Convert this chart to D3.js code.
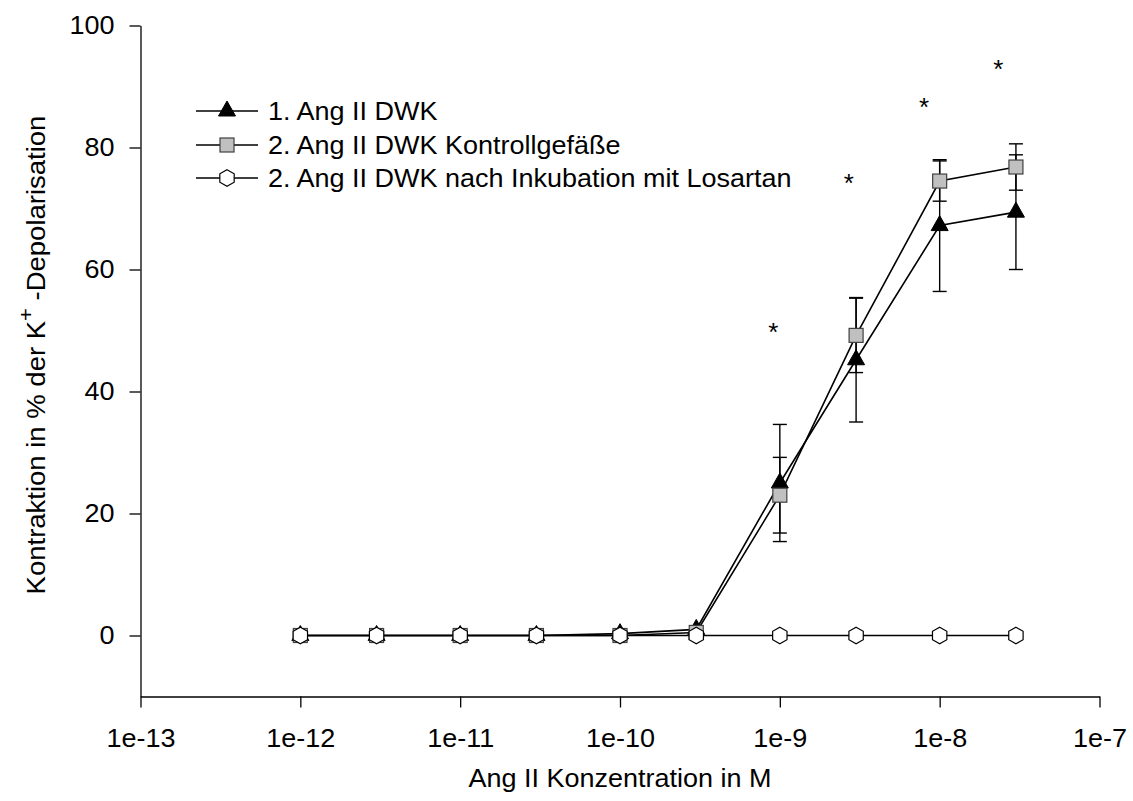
<!DOCTYPE html>
<html>
<head>
<meta charset="utf-8">
<script src="https://cdn.jsdelivr.net/npm/d3@7"></script>
<style>
  html, body { margin: 0; padding: 0; background: #fff; }
  svg { display: block; font-family: "Liberation Sans", Arial, sans-serif; }
</style>
</head>
<body>
<svg id="chart" width="1133" height="801"></svg>
<script>
// ---- data ----
const concentrations = [1e-12, 3e-12, 1e-11, 3e-11, 1e-10, 3e-10, 1e-9, 3e-9, 1e-8, 3e-8];
const seriesNames = [
  "1. Ang II DWK",
  "2. Ang II DWK Kontrollgefäße",
  "2. Ang II DWK nach Inkubation mit Losartan"
];
const ang1Values   = [0, 0, 0, 0, 0.3, 1.0, 25.0, 45.2, 67.2, 69.4];
const ang1Errors   = [0, 0, 0, 0, 0, 0, 9.6, 10.2, 10.8, 9.4];
const kontrValues  = [0, 0, 0, 0, 0, 0.5, 23.0, 49.2, 74.5, 76.8];
const kontrErrors  = [0, 0, 0, 0, 0, 0, 6.2, 6.1, 3.3, 3.8];
const losartanValues = [0, 0, 0, 0, 0, 0, 0, 0, 0, 0];
const starX = [9.1e-10, 2.7e-9, 8.0e-9, 2.33e-8];
const starY = [50.8, 75.1, 87.7, 93.8];
const xTickValues = [1e-13, 1e-12, 1e-11, 1e-10, 1e-9, 1e-8, 1e-7];
const yTickValues = [0, 20, 40, 60, 80, 100];

// ---- layout ----
const svg = d3.select("#chart");
const x = d3.scaleLog().domain([1e-13, 1e-7]).range([140.5, 1099.5]);
const y = d3.scaleLinear().domain([-10, 100]).range([696.5, 25.5]);

const fontPx = 25, stretch = 1.08;

// axes
const xAxis = svg.append("g")
  .attr("transform", `translate(0,${y(-10)})`)
  .call(d3.axisBottom(x).tickValues(xTickValues)
    .tickFormat(d => "1e" + Math.round(Math.log10(d)))
    .tickSizeOuter(0).tickSizeInner(11).tickPadding(22));
const yAxis = svg.append("g")
  .attr("transform", `translate(${x(1e-13)},0)`)
  .call(d3.axisLeft(y).tickValues(yTickValues)
    .tickSizeOuter(0).tickSizeInner(11).tickPadding(15));
[xAxis, yAxis].forEach(g => {
  g.selectAll("path.domain").attr("stroke", "#000").attr("stroke-width", 1.3);
  g.selectAll(".tick line").attr("stroke", "#000").attr("stroke-width", 1.3);
  g.selectAll(".tick text").attr("fill", "#000")
    .style("font-size", fontPx + "px")
    .style("font-family", '"Liberation Sans", Arial, sans-serif');
});
// slight horizontal widening of tick labels around their anchor
xAxis.selectAll(".tick text").attr("transform", `scale(${stretch},1)`);
yAxis.selectAll(".tick text").each(function () {
  const t = d3.select(this);
  const tx = +t.attr("x");
  t.attr("x", 0).attr("transform", `translate(${tx},0) scale(${stretch},1)`);
});

// axis titles
svg.append("text")
  .attr("transform", `translate(${(x.range()[0] + x.range()[1]) / 2},787) scale(${stretch},1)`)
  .attr("text-anchor", "middle")
  .style("font-size", fontPx + "px")
  .text("Ang II Konzentration in M");

const yt = svg.append("text")
  .attr("transform", "translate(45,355) rotate(-90) scale(1.1,1)")
  .attr("text-anchor", "middle")
  .style("font-size", fontPx + "px");
yt.append("tspan").text("Kontraktion in % der K");
yt.append("tspan").attr("dy", -12).style("font-size", "20px").text("+");
yt.append("tspan").attr("dy", 12).text(" -Depolarisation");

// marker helpers
function triPath(g) {
  return g.append("path").attr("d", "M0,-10L8.5,5L-8.5,5Z")
    .attr("fill", "#000").attr("stroke", "#000").attr("stroke-width", 1);
}
function sqPath(g) {
  return g.append("rect").attr("x", -7).attr("y", -7).attr("width", 14).attr("height", 14)
    .attr("fill", "#c0c0c0").attr("stroke", "#404040").attr("stroke-width", 1.2);
}
function hexPath(g) {
  const r = 8.3;
  const pts = d3.range(6).map(i => {
    const a = -Math.PI / 2 + i * Math.PI / 3;
    return [r * Math.cos(a), r * Math.sin(a)];
  });
  return g.append("path").attr("d", "M" + pts.map(p => p.join(",")).join("L") + "Z")
    .attr("fill", "#fff").attr("stroke", "#000").attr("stroke-width", 1.2);
}

const series = [
  { name: seriesNames[0], values: ang1Values, errors: ang1Errors, marker: triPath },
  { name: seriesNames[1], values: kontrValues, errors: kontrErrors, marker: sqPath },
  { name: seriesNames[2], values: losartanValues, errors: null, marker: hexPath }
];

const line = d3.line().x(d => x(d[0])).y(d => y(d[1]));

// lines
series.forEach(s => {
  svg.append("path")
    .datum(concentrations.map((c, i) => [c, s.values[i]]))
    .attr("d", line).attr("fill", "none")
    .attr("stroke", "#000").attr("stroke-width", 1.6);
});

// error bars
series.forEach(s => {
  if (!s.errors) return;
  const g = svg.append("g").attr("stroke", "#000").attr("stroke-width", 1.4);
  concentrations.forEach((c, i) => {
    const e = s.errors[i];
    if (!e) return;
    const cx = x(c), top = y(s.values[i] + e), bot = y(s.values[i] - e);
    g.append("line").attr("x1", cx).attr("x2", cx).attr("y1", top).attr("y2", bot);
    g.append("line").attr("x1", cx - 7).attr("x2", cx + 7).attr("y1", top).attr("y2", top);
    g.append("line").attr("x1", cx - 7).attr("x2", cx + 7).attr("y1", bot).attr("y2", bot);
  });
});

// markers
series.forEach(s => {
  concentrations.forEach((c, i) => {
    const g = svg.append("g").attr("transform", `translate(${x(c)},${y(s.values[i])})`);
    s.marker(g);
  });
});

// significance stars
svg.selectAll("text.star").data(starX.map((c, i) => [c, starY[i]]))
  .enter().append("text").attr("class", "star")
  .attr("x", d => x(d[0])).attr("y", d => y(d[1]) + 15)
  .attr("text-anchor", "middle")
  .style("font-size", "26px")
  .text("*");

// legend
const legendRows = [111, 145, 178];
series.forEach((s, i) => {
  const g = svg.append("g").attr("transform", `translate(0,${legendRows[i]})`);
  g.append("line").attr("x1", 196).attr("x2", 258).attr("y1", 0).attr("y2", 0)
    .attr("stroke", "#000").attr("stroke-width", 1.6);
  s.marker(g.append("g").attr("transform", "translate(227,0)"));
  g.append("text").attr("transform", `translate(268,9) scale(${stretch},1)`)
    .style("font-size", fontPx + "px").text(s.name);
});
</script>
</body>
</html>
